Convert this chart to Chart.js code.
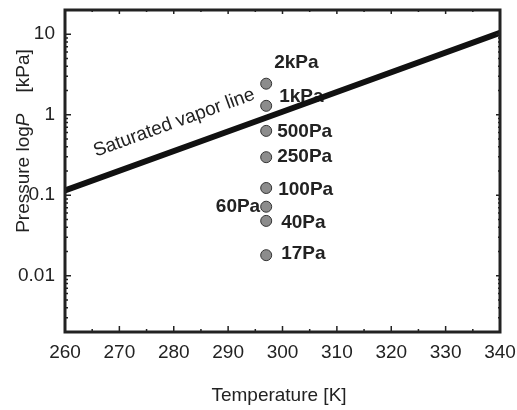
<!DOCTYPE html>
<html>
<head>
<meta charset="utf-8">
<script src="https://cdn.jsdelivr.net/npm/chart.js@4.4.0/dist/chart.umd.min.js"></script>
<style>
  body { margin: 0; background: #fff; }
  #wrap { width: 517px; height: 410px; }
</style>
</head>
<body>
<div id="wrap"><canvas id="chart"></canvas></div>
<script>
// measured points (all at the same temperature)
const pointTemps = [297, 297, 297, 297, 297, 297, 297, 297];
const pointPressures = [2.43, 1.29, 0.63, 0.297, 0.123, 0.072, 0.048, 0.018];
const pointLabels = ['2kPa', '1kPa', '500Pa', '250Pa', '100Pa', '60Pa', '40Pa', '17Pa'];

// saturated vapor line
const lineTemps = [260, 300, 340];
const linePressures = [0.115, 1.09, 10.4];

const xTicks = [260, 270, 280, 290, 300, 310, 320, 330, 340];
const yTicks = [0.01, 0.1, 1, 10];
const yTickLabels = ['0.01', '0.1', '1', '10'];

const FONT = "'Liberation Sans', Arial, sans-serif";
const INK = '#222';

// label placement next to each point: dx, dy, align
const labelPos = [
  [8, -21, 'left'], [13, -9, 'left'], [11, 1, 'left'], [11, 0, 'left'],
  [12, 2, 'left'], [-6, 0, 'right'], [15, 2, 'left'], [15, -1, 'left']
];

const decorPlugin = {
  id: 'decor',
  beforeDatasetsDraw(chart) {
    const ctx = chart.ctx;
    const meta = chart.getDatasetMeta(0);
    ctx.save();
    ctx.font = 'bold 19px ' + FONT;
    ctx.fillStyle = INK;
    ctx.textBaseline = 'middle';
    meta.data.forEach((pt, i) => {
      const p = labelPos[i];
      ctx.textAlign = p[2];
      ctx.fillText(pointLabels[i], pt.x + p[0], pt.y + p[1]);
    });
    ctx.restore();
  },
  afterDraw(chart) {
    const ctx = chart.ctx;
    const a = chart.chartArea;
    const xs = chart.scales.x, ys = chart.scales.y;
    ctx.save();
    ctx.strokeStyle = INK;
    ctx.fillStyle = INK;

    // inward tick marks on all four sides
    ctx.lineWidth = 1.5;
    ctx.beginPath();
    for (let t = 260; t <= 340; t += 5) {
      const px = xs.getPixelForValue(t);
      const major = t % 10 === 0;
      ctx.moveTo(px, a.bottom); ctx.lineTo(px, a.bottom - (major ? 6 : 3));
      ctx.moveTo(px, a.top); ctx.lineTo(px, a.top + (major ? 4 : 2));
    }
    for (let d = 0.001; d <= 10; d *= 10) {
      for (let m = 1; m <= 9; m++) {
        const v = d * m;
        if (v < ys.min || v > ys.max) continue;
        const py = ys.getPixelForValue(v);
        const major = m === 1;
        ctx.moveTo(a.left, py); ctx.lineTo(a.left + (major ? 6 : 3), py);
        ctx.moveTo(a.right, py); ctx.lineTo(a.right - (major ? 4 : 2), py);
      }
    }
    ctx.stroke();

    // frame
    ctx.lineWidth = 3;
    ctx.strokeRect(a.left, a.top, a.right - a.left, a.bottom - a.top);

    // x title
    ctx.font = '19px ' + FONT;
    ctx.textAlign = 'center';
    ctx.textBaseline = 'alphabetic';
    ctx.fillText('Temperature [K]', 279, 401);

    // y title with italic P
    ctx.translate(29, 141);
    ctx.rotate(-Math.PI / 2);
    const parts = [['Pressure log', '19px '], ['P', 'italic 19px '], ['    [kPa]', '19px ']];
    let total = 0;
    parts.forEach(p => { ctx.font = p[1] + FONT; total += ctx.measureText(p[0]).width; });
    let x0 = -total / 2;
    ctx.textAlign = 'left';
    parts.forEach(p => {
      ctx.font = p[1] + FONT;
      ctx.fillText(p[0], x0, 0);
      x0 += ctx.measureText(p[0]).width;
    });
    ctx.setTransform(1, 0, 0, 1, 0, 0);

    // label along the vapor line
    const lm = chart.getDatasetMeta(1).data;
    const p0 = lm[0], p1 = lm[lm.length - 1];
    const ang = Math.atan2(p1.y - p0.y, p1.x - p0.x);
    const sx = xs.getPixelForValue(267);
    const sy = p0.y + (sx - p0.x) * Math.tan(ang);
    ctx.translate(sx + 21 * Math.sin(ang), sy - 21 * Math.cos(ang));
    ctx.rotate(ang);
    ctx.font = '19px ' + FONT;
    ctx.textAlign = 'left';
    ctx.fillText('Saturated vapor line', 0, 0);
    ctx.restore();
  }
};

new Chart(document.getElementById('chart'), {
  type: 'scatter',
  data: {
    datasets: [
      {
        label: 'samples',
        data: pointTemps.map((t, i) => ({ x: t, y: pointPressures[i] })),
        pointRadius: 5.5,
        pointBackgroundColor: '#8c8c8c',
        pointBorderColor: '#333',
        pointBorderWidth: 1,
        order: 0
      },
      {
        label: 'Saturated vapor line',
        type: 'line',
        data: lineTemps.map((t, i) => ({ x: t, y: linePressures[i] })),
        borderColor: '#111',
        borderWidth: 6,
        pointRadius: 0,
        fill: false,
        order: 1
      }
    ]
  },
  options: {
    responsive: true,
    maintainAspectRatio: false,
    animation: false,
    layout: { padding: { top: 10, right: 17, left: 0, bottom: 0 } },
    plugins: { legend: { display: false }, tooltip: { enabled: false } },
    scales: {
      x: {
        type: 'linear',
        min: 260, max: 340,
        afterBuildTicks: s => { s.ticks = xTicks.map(v => ({ value: v })); },
        afterFit: s => { s.height = 78; s.paddingLeft = 0; s.paddingRight = 0; },
        ticks: { font: { size: 19, family: FONT }, color: INK, padding: 9, maxRotation: 0 },
        grid: { display: false, drawTicks: false },
        border: { display: false }
      },
      y: {
        type: 'logarithmic',
        min: 0.002, max: 20,
        afterBuildTicks: s => { s.ticks = yTicks.map(v => ({ value: v })); },
        afterFit: s => { s.width = 65; s.paddingTop = 0; s.paddingBottom = 0; },
        ticks: {
          font: { size: 19, family: FONT }, color: INK, padding: 10,
          callback: v => { const i = yTicks.indexOf(v); return i >= 0 ? yTickLabels[i] : ''; }
        },
        grid: { display: false, drawTicks: false },
        border: { display: false }
      }
    }
  },
  plugins: [decorPlugin]
});
</script>
</body>
</html>
